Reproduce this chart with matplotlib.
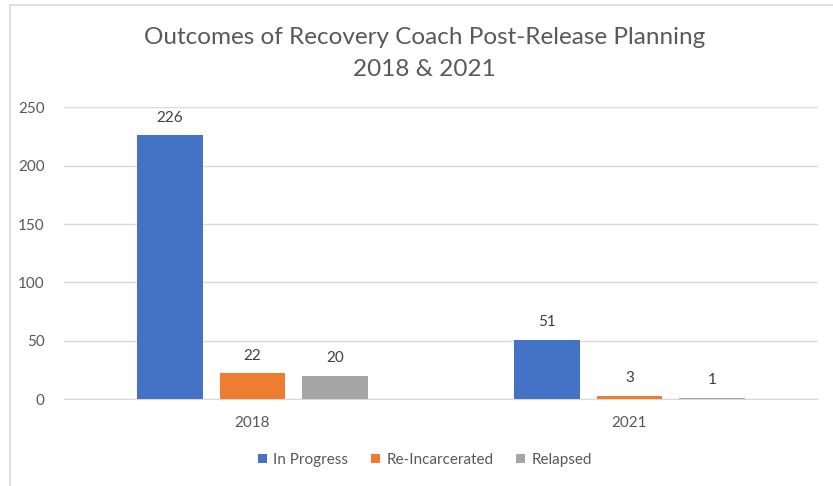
import matplotlib.pyplot as plt
import numpy as np
from matplotlib.patches import Rectangle

plt.rcParams['font.family'] = ['Lato', 'DejaVu Sans']

years = ["2018", "2021"]
series = ["In Progress", "Re-Incarcerated", "Relapsed"]
in_progress = [226, 51]
re_incarcerated = [22, 3]
relapsed = [20, 1]
colors = ["#4472C4", "#ED7D31", "#A5A5A5"]

fig = plt.figure(figsize=(8.33, 4.86), dpi=100)
# chart frame, running off the right and bottom edge
fig.patches.append(Rectangle((10 / 833, -0.1), 1.2, 1.1 - 5 / 486, transform=fig.transFigure,
                             fill=False, edgecolor="#d9d9d9", linewidth=1.2))

ax = fig.add_axes([64 / 833, 1 - 399 / 486, 754 / 833, 291.5 / 486])

x = np.arange(len(years))
width = 0.175
step = 0.22
for i, (name, vals) in enumerate(zip(series, [in_progress, re_incarcerated, relapsed])):
    bars = ax.bar(x + (i - 1) * step, vals, width, color=colors[i], label=name, zorder=3)
    for b, v in zip(bars, vals):
        ax.text(b.get_x() + b.get_width() / 2, v + 9, str(v), ha="center", va="bottom",
                fontsize=11, color="#404040")

ax.set_xlim(-0.5, 1.5)
ax.set_ylim(0, 250)
ax.set_yticks(range(0, 251, 50))
ax.set_xticks(x)
ax.set_xticklabels(years)
ax.grid(axis="y", color="#d9d9d9", linewidth=1, zorder=0)
for s in ["top", "right", "left"]:
    ax.spines[s].set_visible(False)
ax.spines["bottom"].set_color("#d9d9d9")
ax.tick_params(axis="both", length=0, labelsize=11, labelcolor="#595959")
ax.tick_params(axis="x", pad=12)
ax.tick_params(axis="y", pad=14)

fig.text(0.51, 1 - 37 / 486, "Outcomes of Recovery Coach Post-Release Planning",
         ha="center", va="center", fontsize=17.5, color="#595959")
fig.text(0.51, 1 - 70 / 486, "2018 & 2021", ha="center", va="center", fontsize=17.5, color="#595959")

fig.legend(loc="center", bbox_to_anchor=(0.51, 1 - 460 / 486), ncol=3, frameon=False,
           fontsize=11, labelcolor="#595959", handlelength=0.6, handleheight=0.6,
           handletextpad=0.4, columnspacing=1.5)

fig.savefig("out.png", dpi=100)
